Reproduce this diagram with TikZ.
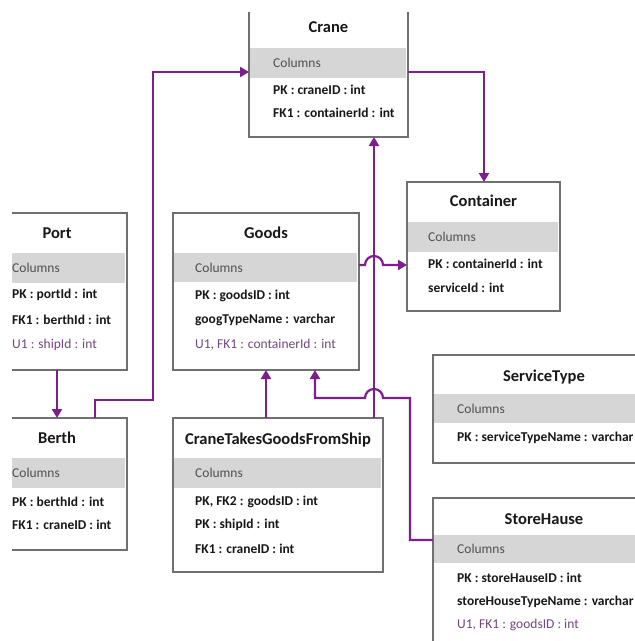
\documentclass[tikz,border=0pt]{standalone}
\usepackage{fontspec}
\setmainfont{Carlito}
\usetikzlibrary{arrows.meta,calc}

\definecolor{relcol}{RGB}{125,30,140}
\definecolor{boxgray}{RGB}{112,112,112}
\definecolor{bandgray}{RGB}{214,214,214}
\definecolor{txt}{RGB}{24,24,24}
\definecolor{colgray}{RGB}{80,80,80}
\definecolor{ucol}{RGB}{112,72,124}

% table frame: name, left, top, right, bottom, title, title y
\newcommand{\erbox}[7]{%
  \node[tbl, minimum width={#4-#2}, minimum height={#5-#3}] (#1) at (#2,#3) {};
  \node[ttl] (#1-title) at ({(#2+#4)/2},#7) {#6};
}
% grey "Columns" band: name, left, right, top, bottom, text x
\newcommand{\erband}[6]{%
  \fill[bandgray] ({#2+1.2},#4) rectangle ({#3-1.6},#5);
  \node[colhdr] (#1-cols) at (#6,{(#4+#5)/2}) {Columns};
}

\begin{document}
\begin{tikzpicture}[x=1pt,y=-1pt,
  tbl/.style={draw=boxgray, line width=1.6pt, fill=white, rectangle,
    inner sep=0pt, outer sep=0pt, anchor=north west},
  ttl/.style={font=\fontsize{16.5}{18}\selectfont\bfseries, text=txt, inner sep=0pt},
  colhdr/.style={font=\fontsize{13.5}{15}\selectfont, text=colgray, anchor=west, inner sep=0pt},
  fld/.style={font=\fontsize{13.5}{15}\selectfont\bfseries, text=txt, anchor=west, inner sep=0pt},
  ufld/.style={font=\fontsize{13.5}{15}\selectfont, text=ucol, anchor=west, inner sep=0pt},
  rel/.style={draw=relcol, line width=2.2pt, line join=miter,
    -{Triangle[length=9pt,width=10pt]}},
]
\useasboundingbox (0,0) rectangle (635,641);
\fill[white] (0,0) rectangle (635,641);

\begin{scope}
\clip (12,12) rectangle (635,641);

% ---- tables ----
\erbox{crane}{249}{-20}{408}{137}{Crane}{27}
\erband{crane}{249}{408}{48}{78}{273}
\node[fld] (crane-r1) at (273,90) {PK : craneID : int};
\node[fld] (crane-r2) at (273,113) {FK1 : containerId : int};

\erbox{container}{407}{182}{560}{311}{Container}{201}
\erband{container}{407}{560}{222}{252}{428}
\node[fld] (container-r1) at (428,264) {PK : containerId : int};
\node[fld] (container-r2) at (428,288) {serviceId : int};

\erbox{port}{-13}{213}{127}{370}{Port}{233}
\erband{port}{-13}{127}{253}{283}{12}
\node[fld] (port-r1) at (12,295) {PK : portId : int};
\node[fld] (port-r2) at (12,320) {FK1 : berthId : int};
\node[ufld] (port-r3) at (12,345) {U1 : shipId : int};

\erbox{berth}{-13}{418}{127}{550}{Berth}{438}
\erband{berth}{-13}{127}{458}{488}{12}
\node[fld] (berth-r1) at (12,502) {PK : berthId : int};
\node[fld] (berth-r2) at (12,525) {FK1 : craneID : int};

\erbox{goods}{173}{213}{359}{370}{Goods}{233}
\erband{goods}{173}{359}{253}{282}{195}
\node[fld] (goods-r1) at (195,296) {PK : goodsID : int};
\node[fld] (goods-r2) at (195,320) {googTypeName : varchar};
\node[ufld] (goods-r3) at (195,345) {U1, FK1 : containerId : int};

\erbox{ctg}{173}{418}{383}{572}{CraneTakesGoodsFromShip}{440}
\erband{ctg}{173}{383}{458}{488}{195}
\node[fld] (ctg-r1) at (195,502) {PK, FK2 : goodsID : int};
\node[fld] (ctg-r2) at (195,525) {PK : shipId : int};
\node[fld] (ctg-r3) at (195,549) {FK1 : craneID : int};

\erbox{service}{433}{355}{655}{463}{ServiceType}{377}
\erband{service}{433}{655}{394}{423}{457}
\node[fld] (service-r1) at (457,438) {PK : serviceTypeName : varchar};

\erbox{store}{433}{498}{655}{690}{StoreHause}{519}
\erband{store}{433}{655}{535}{563}{457}
\node[fld] (store-r1) at (457,578) {PK : storeHauseID : int};
\node[fld] (store-r2) at (457,602) {storeHouseTypeName : varchar};
\node[ufld] (store-r3) at (457,625) {U1, FK1 : goodsID : int};

% ---- relationships ----
\draw[rel] (port.south) -- (berth.north);

\draw[rel] ([xshift=108pt]berth.north west) -- ++(0,-18) -- ++(58,0)
  |- ([yshift=-13.5pt]crane.west);

\draw[rel] ([yshift=-13.5pt]crane.east) -| ([xshift=77pt]container.north west);

\draw[rel] ([xshift=201pt]ctg.north west) -- ([xshift=125pt]crane.south west);

\draw[rel] ([xshift=93pt]ctg.north west) -- ([xshift=93pt]goods.south west);

\draw[rel] ([yshift=26.5pt]goods.east) -- ++(6,0)
  arc[start angle=180, end angle=0, radius=9pt]
  -- ([yshift=-18.5pt]container.west);

\draw[rel] ([yshift=-42pt]store.north west) -- ++(-23,0) -- ++(0,-142)
  -- ++(-27,0) arc[start angle=0, end angle=180, radius=9pt]
  -| ([xshift=142pt]goods.south west);
\end{scope}
\end{tikzpicture}
\end{document}
